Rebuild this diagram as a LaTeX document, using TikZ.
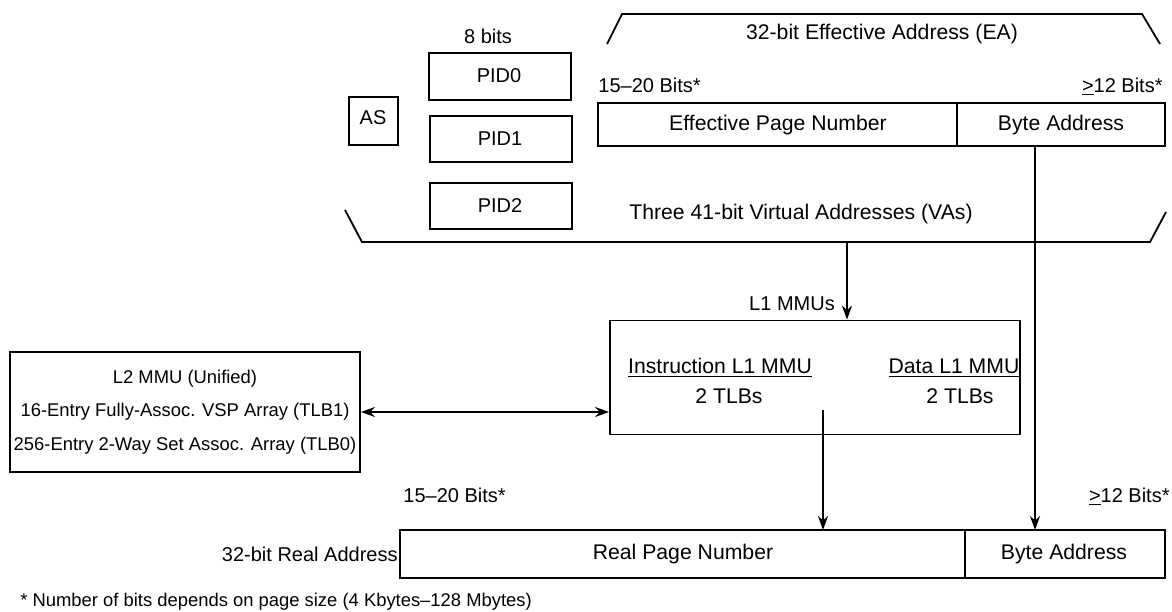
\documentclass[tikz,border=0pt]{standalone}
\usepackage{fontspec}
\setmainfont{Liberation Sans}
\usetikzlibrary{arrows.meta}
\begin{document}
\begin{tikzpicture}[x=0.5pt,y=-0.5pt,
  every node/.style={inner sep=0pt,font=\fontsize{10}{12}\selectfont},
  small/.style={font=\fontsize{9.2}{11}\selectfont},
  wide/.style={font=\fontsize{10.6}{12}\selectfont},
  box/.style={draw,line width=0.9pt},
  ln/.style={line width=0.9pt},
  arr/.style={ln,-{Stealth[length=7pt,width=5pt]}},
  darr/.style={ln,{Stealth[length=7pt,width=5pt]}-{Stealth[length=7pt,width=5pt]}}]
\useasboundingbox (0,0) rectangle (1172,611);
% EA trapezoid
\draw[ln] (607,44) -- (622,14) -- (1142,14) -- (1160,44);
\node[wide] (ealbl) at (882,34) {32-bit Effective Address (EA)};
\node (bits8) at (488,36) {8 bits};
% PID boxes
\draw[box] (429,53) rectangle (571,100);
\node (pid0) at (499,76) {PID0};
\draw[box] (430,116) rectangle (572,162);
\node (pid1) at (500,139) {PID1};
\draw[box] (430,183) rectangle (572,229);
\node (pid2) at (500,206) {PID2};
\draw[box] (349,97) rectangle (398,145);
\node (as) at (373,118) {AS};
% EA box
\node[anchor=base west] (ea1) at (598,92) {15--20 Bits*};
\node[anchor=base east] (ea2) at (1163,92) {\underline{>}12 Bits*};
\draw[box] (598,103) rectangle (1165,146);
\draw[ln] (957,103) -- (957,146);
\node[wide] (epn) at (778,125) {Effective Page Number};
\node[wide] (eba) at (1061,125) {Byte Address};
% VA trapezoid
\draw[ln] (345,210) -- (362,242) -- (1150,242) -- (1166,212);
\node[wide] (valbl) at (801,214) {Three 41-bit Virtual Addresses (VAs)};
% L1 box
\node (l1lbl) at (792,304) {L1 MMUs};
\node[box,minimum width=205pt,minimum height=57pt] (l1) at (815,377.5) {};
\node[wide] (iname) at (720,368) {\underline{Instruction L1 MMU}};
\node[wide] (itlb) at (729,396) {2 TLBs};
\node[wide] (dname) at (954,368) {\underline{Data L1 MMU}};
\node[wide] (dtlb) at (960,396) {2 TLBs};
% L2 box
\node[box,minimum width=175pt,minimum height=60pt] (l2) at (185,412) {};
\node[small] (l2a) at (185,379) {L2 MMU (Unified)};
\node[small] (l2b) at (185,412) {16-Entry Fully-Assoc. VSP Array (TLB1)};
\node[small] (l2c) at (185,446) {256-Entry 2-Way Set Assoc. Array (TLB0)};
% Real address box
\node[anchor=base west] (ra1) at (403,502) {15--20 Bits*};
\node[anchor=base east] (ra2) at (1170,502) {\underline{>}12 Bits*};
\draw[box] (400,530) rectangle (1165,578);
\draw[ln] (965,530) -- (965,578);
\coordinate (rpntop) at (823,530);
\coordinate (rbatop) at (1035,530);
\node[anchor=east] (ralbl) at (398,554) {32-bit Real Address};
\node[wide] (rpn) at (683,554) {Real Page Number};
\node[wide] (rba) at (1064,554) {Byte Address};
\node[small,anchor=base west] (foot) at (20,606) {* Number of bits depends on page size (4 Kbytes--128 Mbytes)};
% connectors
\coordinate (vaout) at (847,242);
\draw[arr] (vaout) -- (l1.north -| vaout);
\coordinate (babot) at (1035,146);
\draw[arr] (babot) -- (rbatop);
\coordinate (l1in) at (823,410);
\draw[arr] (l1in) -- (rpntop);
\draw[darr] (l2.east) -- (l2.east -| l1.west);
\end{tikzpicture}
\end{document}
